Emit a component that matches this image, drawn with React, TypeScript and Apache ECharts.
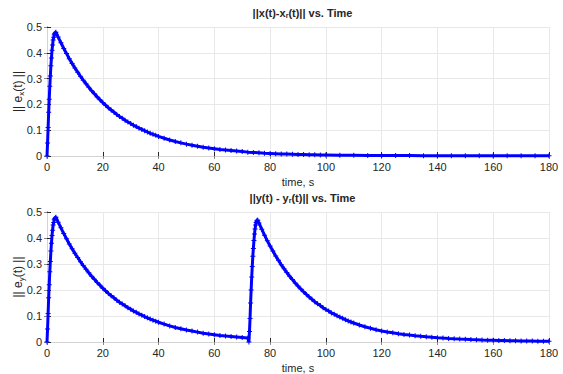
import React, { useEffect, useRef } from "react";
import * as echarts from "echarts";

// [time (s), error norm]
const firstPulse: number[][] = [
  [0, 0], [0.2, 0.05], [0.4, 0.11], [0.6, 0.17], [0.8, 0.22], [1.0, 0.27], [1.2, 0.31], [1.4, 0.35],
  [1.6, 0.38], [1.8, 0.41], [2.0, 0.43], [2.2, 0.45], [2.4, 0.46], [2.6, 0.47], [2.8, 0.475], [3.0, 0.478],
  [3.2, 0.48], [4, 0.461], [5, 0.439], [6, 0.417], [7, 0.397], [8, 0.377], [9, 0.359], [10, 0.341],
  [11, 0.325], [12, 0.309], [13, 0.294], [14, 0.28], [15, 0.266], [16, 0.253], [17, 0.241], [18, 0.229],
  [19, 0.218], [20, 0.207], [21, 0.197], [22, 0.187], [23, 0.178], [24, 0.17], [25, 0.161], [26, 0.153],
  [27, 0.146], [28, 0.139], [29, 0.132], [30, 0.126], [31, 0.119], [32, 0.114], [33, 0.108], [34, 0.103],
  [35, 0.098], [36, 0.093], [37, 0.088], [38, 0.084], [39, 0.08], [40, 0.076], [42, 0.069], [44, 0.062],
  [46, 0.056], [48, 0.051], [50, 0.046], [52, 0.042], [54, 0.038], [56, 0.034], [58, 0.031], [60, 0.028],
  [62, 0.025], [64, 0.023], [66, 0.021], [68, 0.019], [70, 0.017], [72, 0.015],
];

const topTail: number[][] = [
  [74, 0.014], [76, 0.013], [78, 0.011], [80, 0.01], [82, 0.009], [84, 0.008], [86, 0.008], [88, 0.007],
  [90, 0.006], [92, 0.006], [94, 0.005], [96, 0.005], [98, 0.004], [100, 0.004], [105, 0.003], [110, 0.003],
  [115, 0.002], [120, 0.002], [125, 0.002], [130, 0.002], [135, 0.001], [140, 0.001], [145, 0.001],
  [150, 0.001], [155, 0.001], [160, 0.001], [165, 0.001], [170, 0.001], [175, 0.001], [180, 0.001],
];

const secondPulse: number[][] = [
  [72.4, 0], [72.6, 0.04], [72.8, 0.09], [73.0, 0.15], [73.2, 0.2], [73.4, 0.25], [73.6, 0.29], [73.8, 0.33],
  [74.0, 0.36], [74.2, 0.39], [74.4, 0.415], [74.6, 0.435], [74.8, 0.45], [75.0, 0.46], [75.2, 0.465],
  [75.4, 0.468], [75.6, 0.468], [76, 0.458], [77, 0.434], [78, 0.411], [79, 0.389], [80, 0.369], [81, 0.35],
  [82, 0.331], [83, 0.314], [84, 0.297], [85, 0.282], [86, 0.267], [87, 0.253], [88, 0.24], [89, 0.227],
  [90, 0.215], [91, 0.204], [92, 0.193], [93, 0.183], [94, 0.173], [95, 0.164], [96, 0.155], [97, 0.147],
  [98, 0.14], [99, 0.132], [100, 0.125], [101, 0.119], [102, 0.112], [103, 0.107], [104, 0.101], [105, 0.096],
  [106, 0.091], [107, 0.086], [108, 0.081], [109, 0.077], [110, 0.073], [112, 0.0655], [114, 0.0588],
  [116, 0.0528], [118, 0.0474], [120, 0.0425], [122, 0.0387], [124, 0.0352], [126, 0.032], [128, 0.0291],
  [130, 0.0265], [132, 0.0241], [134, 0.022], [136, 0.02], [138, 0.0182], [140, 0.0166], [142, 0.0151],
  [144, 0.0137], [146, 0.0125], [148, 0.0114], [150, 0.0104], [152, 0.0094], [154, 0.0086], [156, 0.0078],
  [158, 0.0071], [160, 0.0065], [162, 0.0059], [164, 0.0054], [166, 0.0049], [168, 0.0045], [170, 0.0041],
  [172, 0.0037], [174, 0.0034], [176, 0.0031], [178, 0.0028], [180, 0.0025],
];

const xTicks = { min: 0, max: 180, interval: 20 };
const yTicks = { min: 0, max: 0.5, interval: 0.1 };

const titles = ["||x(t)-x{sub|r}(t)|| vs. Time", "||y(t) - y{sub|r}(t)|| vs. Time"];
const yNames = ["|| e{sub|x}(t) ||", "|| e{sub|y}(t) ||"];
const xName = "time, s";

const FONT = "Liberation Sans, Arial, Helvetica, sans-serif";
const DARK = "#262626";
const LIGHT = "#d4d4d4";
const GRIDC = "#e8e8e8";
const BLUE = "#0000ff";
const PLUS = "path://M4,0 L6,0 L6,4 L10,4 L10,6 L6,6 L6,10 L4,10 L4,6 L0,6 L0,4 L4,4 Z";

export default function App() {
  const ref = useRef<HTMLDivElement>(null);
  useEffect(() => {
    if (!ref.current) return;
    const chart = echarts.init(ref.current, null, { renderer: "svg" });
    const grids = [
      { left: 47, right: 14, top: 27, height: 129, outerBoundsMode: "none", containLabel: false },
      { left: 47, right: 14, top: 212, height: 130, outerBoundsMode: "none", containLabel: false },
    ];
    const subRich = {
      sub: { fontSize: 8, fontFamily: FONT, color: DARK, padding: [6, 0, 0, 0] },
    };
    const xAxes: any[] = [];
    const yAxes: any[] = [];
    grids.forEach((_, g) => {
      xAxes.push({
        type: "value", gridIndex: g, position: "bottom", ...xTicks,
        axisLine: { lineStyle: { color: DARK, width: 1 } },
        axisTick: { inside: true, length: 4, lineStyle: { color: DARK } },
        axisLabel: { color: DARK, fontSize: 11, fontFamily: FONT, margin: 5 },
        splitLine: { show: true, lineStyle: { color: GRIDC, width: 1 } },
        name: xName, nameLocation: "middle", nameGap: 20, nameMoveOverlap: false,
        nameTextStyle: { color: DARK, fontSize: 11, fontFamily: FONT },
      });
      xAxes.push({
        type: "value", gridIndex: g, position: "top", ...xTicks,
        axisLine: { lineStyle: { color: LIGHT, width: 1 } },
        axisTick: { inside: true, length: 3, lineStyle: { color: "#8a8a8a" } },
        axisLabel: { show: false }, splitLine: { show: false },
      });
      yAxes.push({
        type: "value", gridIndex: g, position: "left", ...yTicks,
        axisLine: { show: true, lineStyle: { color: DARK, width: 1 } },
        axisTick: { show: true, inside: true, length: 4, lineStyle: { color: DARK } },
        axisLabel: { color: DARK, fontSize: 11, fontFamily: FONT, margin: 5 },
        splitLine: { show: true, lineStyle: { color: GRIDC, width: 1 } },
        name: yNames[g], nameLocation: "middle", nameGap: 22, nameRotate: 90, nameMoveOverlap: false,
        nameTextStyle: { color: DARK, fontSize: 12, fontFamily: FONT, rich: subRich },
      });
      yAxes.push({
        type: "value", gridIndex: g, position: "right", ...yTicks,
        axisLine: { show: true, lineStyle: { color: LIGHT, width: 1 } },
        axisTick: { show: true, inside: true, length: 3, lineStyle: { color: "#8a8a8a" } },
        axisLabel: { show: false }, splitLine: { show: false },
      });
    });
    const seriesData = [firstPulse.concat(topTail), firstPulse.concat(secondPulse)];
    chart.setOption({
      animation: false,
      backgroundColor: "#ffffff",
      title: titles.map((t, g) => ({
        text: t,
        left: 297.5,
        textAlign: "center",
        top: g === 0 ? 1 : 186,
        textStyle: {
          fontSize: 11, fontWeight: "bold", color: DARK, fontFamily: FONT,
          rich: { sub: { fontSize: 7, fontWeight: "bold", fontFamily: FONT, color: DARK, padding: [6, 0, 0, 0] } },
        },
      })),
      grid: grids,
      xAxis: xAxes,
      yAxis: yAxes,
      series: seriesData.map((d, g) => ({
        type: "line",
        xAxisIndex: g * 2,
        yAxisIndex: g * 2,
        data: d,
        color: BLUE,
        lineStyle: { color: BLUE, width: 3 },
        symbol: PLUS,
        symbolSize: 5,
        showSymbol: true,
        itemStyle: { color: BLUE },
        clip: false,
      })),
    });
    return () => chart.dispose();
  }, []);
  return (
    <div
      ref={ref}
      style={{ position: "fixed", left: 0, top: 0, width: 563, height: 374, background: "#fff" }}
    />
  );
}
